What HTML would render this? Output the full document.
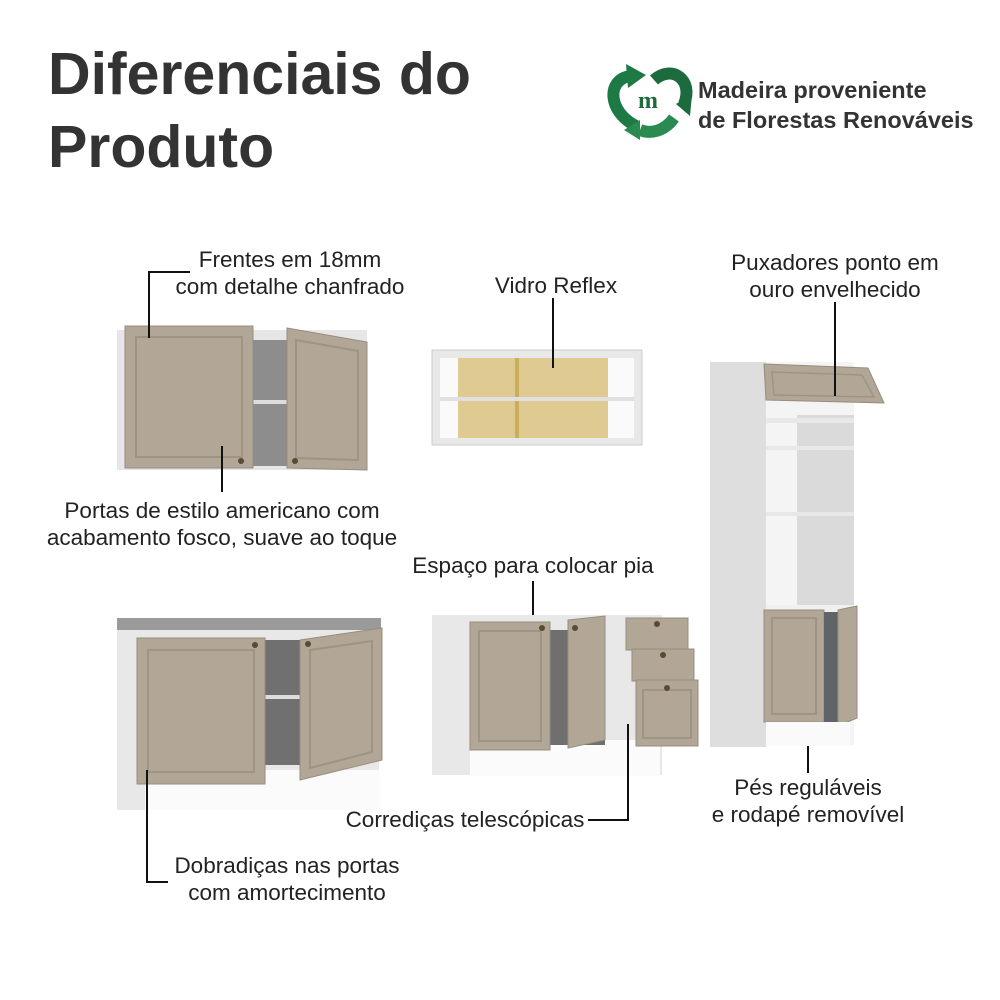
<!DOCTYPE html>
<html><head><meta charset="utf-8"><style>
body{margin:0;width:1000px;height:1000px;background:#fff;overflow:hidden;position:relative;font-family:"Liberation Sans",sans-serif;color:#222}
.t{position:absolute;font-size:22.5px;line-height:27px;white-space:nowrap}
.c{text-align:center}
h1{position:absolute;left:48px;top:38px;margin:0;font-size:59px;line-height:73px;font-weight:bold;color:#333}
svg{position:absolute;left:0;top:0}
</style></head><body>
<h1>Diferenciais do<br>Produto</h1>
<div class="t" style="left:698px;top:75px;font-size:23.5px;font-weight:bold;color:#333;line-height:30px">Madeira proveniente<br>de Florestas Renováveis</div>

<svg width="1000" height="1000" viewBox="0 0 1000 1000">
<!-- logo -->
<g fill="none" stroke-width="12" stroke-linecap="butt">
<path d="M636 126 C608 112 606 80 630 76" stroke="#1e7a45"/>
<path d="M654 80 C672 64 694 80 684 104" stroke="#1c6b3c"/>
<path d="M674 118 C664 132 650 134 640 130" stroke="#2a8a50"/>
</g>
<polygon points="626,64 646,75 628,88" fill="#1e7a45"/>
<polygon points="692,94 690,116 676,104" fill="#1c6b3c"/>
<polygon points="640,120 624,130 640,140" fill="#2a8a50"/>
<text x="648" y="108" font-family="Liberation Serif,serif" font-size="24" font-weight="bold" fill="#1e6b3e" text-anchor="middle">m</text>

<!-- upper cabinet left -->
<rect x="117" y="330" width="250" height="140" fill="#e6e6e6"/>
<rect x="250" y="340" width="40" height="126" fill="#8d8d8d"/>
<rect x="250" y="400" width="40" height="4" fill="#ddd"/>
<rect x="125" y="326" width="128" height="142" fill="#b2a797" stroke="#978c7d"/>
<rect x="136" y="337" width="106" height="120" fill="none" stroke="#9e9384" stroke-width="2"/>
<polygon points="287,328 367,342 367,470 287,468" fill="#b2a797" stroke="#978c7d"/>
<polygon points="296,340 358,351 358,460 296,458" fill="none" stroke="#9e9384" stroke-width="2"/>
<circle cx="241" cy="461" r="3" fill="#5a4a30"/><circle cx="295" cy="461" r="3" fill="#5a4a30"/>

<!-- glass cabinet -->
<rect x="432" y="350" width="210" height="95" fill="#e8e8e8" stroke="#ccc"/>
<rect x="440" y="358" width="194" height="80" fill="#fafafa"/>
<rect x="458" y="358" width="150" height="80" fill="#d9c27e" opacity="0.85"/>
<rect x="515" y="358" width="4" height="80" fill="#c9ae5e"/>
<rect x="440" y="397" width="194" height="4" fill="#e0e0e0"/>

<!-- tall cabinet -->
<rect x="710" y="362" width="56" height="385" fill="#dedede"/>
<rect x="766" y="362" width="88" height="383" fill="#f4f4f4"/>
<rect x="797" y="415" width="57" height="190" fill="#dadada"/>
<rect x="766" y="418" width="88" height="5" fill="#e8e8e8"/>
<rect x="766" y="446" width="88" height="4" fill="#e8e8e8"/>
<rect x="766" y="512" width="88" height="4" fill="#e8e8e8"/>
<polygon points="764,364 868,368 884,403 766,400" fill="#b2a797" stroke="#978c7d"/>
<polygon points="772,372 862,375 874,397 774,395" fill="none" stroke="#9e9384" stroke-width="1.5"/>
<rect x="766" y="605" width="88" height="6" fill="#f0f0f0"/>
<rect x="764" y="610" width="60" height="112" fill="#b2a797" stroke="#978c7d"/>
<rect x="772" y="618" width="44" height="96" fill="none" stroke="#9e9384" stroke-width="2"/>
<rect x="824" y="612" width="14" height="110" fill="#5f6566"/>
<polygon points="838,610 857,606 857,718 838,726" fill="#b2a797" stroke="#978c7d"/>
<rect x="766" y="722" width="84" height="24" fill="#fafafa"/>

<!-- bottom left cabinet -->
<rect x="117" y="618" width="264" height="14" fill="#9a9a9a"/>
<rect x="117" y="630" width="262" height="180" fill="#e8e8e8"/>
<rect x="145" y="770" width="234" height="40" fill="#fbfbfb"/>
<rect x="262" y="640" width="40" height="125" fill="#707070"/>
<rect x="262" y="695" width="40" height="4" fill="#ddd"/>
<rect x="137" y="638" width="128" height="146" fill="#b2a797" stroke="#978c7d"/>
<rect x="148" y="650" width="106" height="122" fill="none" stroke="#9e9384" stroke-width="2"/>
<polygon points="300,640 382,628 382,760 300,780" fill="#b2a797" stroke="#978c7d"/>
<polygon points="310,650 372,641 372,752 310,768" fill="none" stroke="#9e9384" stroke-width="2"/>
<circle cx="255" cy="645" r="3" fill="#5a4a30"/><circle cx="308" cy="644" r="3" fill="#5a4a30"/>

<!-- sink cabinet -->
<rect x="432" y="615" width="230" height="160" fill="#e8e8e8"/>
<rect x="470" y="740" width="190" height="36" fill="#fbfbfb"/>
<rect x="550" y="630" width="55" height="115" fill="#6f6f6f"/>
<rect x="470" y="622" width="80" height="128" fill="#b2a797" stroke="#978c7d"/>
<rect x="479" y="631" width="62" height="110" fill="none" stroke="#9e9384" stroke-width="2"/>
<polygon points="568,620 605,616 605,740 568,748" fill="#b2a797" stroke="#978c7d"/>
<rect x="626" y="618" width="62" height="32" fill="#b2a797" stroke="#978c7d"/>
<rect x="632" y="649" width="62" height="32" fill="#b2a797" stroke="#978c7d"/>
<rect x="636" y="680" width="62" height="66" fill="#b2a797" stroke="#978c7d"/>
<rect x="643" y="690" width="48" height="48" fill="none" stroke="#9e9384" stroke-width="2"/>
<circle cx="542" cy="628" r="3" fill="#5a4a30"/><circle cx="575" cy="628" r="3" fill="#5a4a30"/>
<circle cx="657" cy="624" r="3" fill="#5a4a30"/><circle cx="663" cy="655" r="3" fill="#5a4a30"/><circle cx="667" cy="688" r="3" fill="#5a4a30"/>

<!-- leader lines -->
<g stroke="#111" stroke-width="2" fill="none">
<polyline points="190,272 149,272 149,338"/>
<line x1="222" y1="446" x2="222" y2="492"/>
<line x1="553" y1="298" x2="553" y2="368"/>
<line x1="835" y1="302" x2="835" y2="396"/>
<line x1="533" y1="581" x2="533" y2="615"/>
<polyline points="588,820 628,820 628,724"/>
<line x1="808" y1="746" x2="808" y2="773"/>
<polyline points="147,770 147,882 168,882"/>
</g>
</svg>

<div class="t c" style="left:140px;top:246px;width:300px">Frentes em 18mm<br>com detalhe chanfrado</div>
<div class="t c" style="left:456px;top:272px;width:200px">Vidro Reflex</div>
<div class="t c" style="left:700px;top:249px;width:270px">Puxadores ponto em<br>ouro envelhecido</div>
<div class="t c" style="left:20px;top:497px;width:404px">Portas de estilo americano com<br>acabamento fosco, suave ao toque</div>
<div class="t c" style="left:393px;top:552px;width:280px">Espaço para colocar pia</div>
<div class="t c" style="left:693px;top:774px;width:230px">Pés reguláveis<br>e rodapé removível</div>
<div class="t c" style="left:335px;top:806px;width:260px">Corrediças telescópicas</div>
<div class="t c" style="left:147px;top:852px;width:280px">Dobradiças nas portas<br>com amortecimento</div>
</body></html>
